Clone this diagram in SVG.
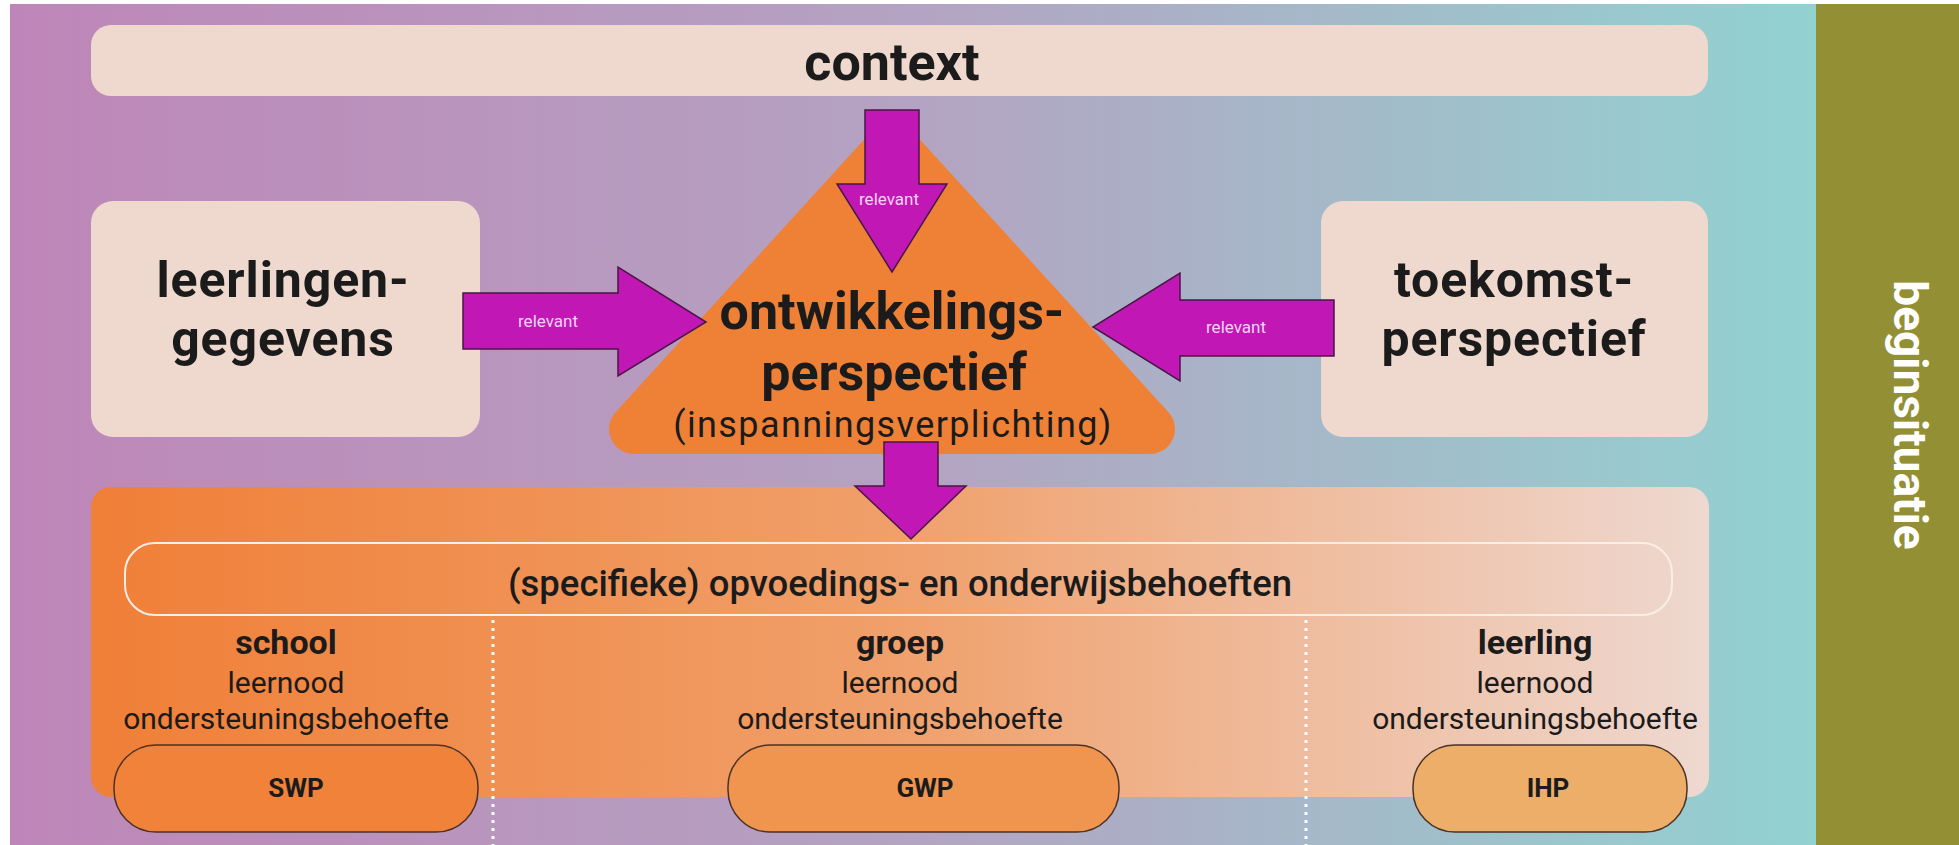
<svg xmlns="http://www.w3.org/2000/svg" width="1959" height="845" viewBox="0 0 1959 845">
<defs>
<linearGradient id="bg" x1="10" y1="0" x2="1816" y2="0" gradientUnits="userSpaceOnUse">
<stop offset="0" stop-color="#be86b8"/>
<stop offset="0.5" stop-color="#b4a3c2"/>
<stop offset="1" stop-color="#92d2d1"/>
</linearGradient>
<linearGradient id="panel" x1="91" y1="0" x2="1709" y2="0" gradientUnits="userSpaceOnUse">
<stop offset="0" stop-color="#f07f37"/>
<stop offset="0.5" stop-color="#f0a06b"/>
<stop offset="1" stop-color="#eed8d0"/>
</linearGradient>
<style>
.box{fill:#efd8cd}
.big{font-family:Roboto,"Liberation Sans",sans-serif;font-weight:bold;font-size:52px;fill:#1b1b1b;text-anchor:middle}
.side{font-size:50px;letter-spacing:0.9px}
.rel{font-family:Roboto,"Liberation Sans",sans-serif;font-size:17px;fill:#f6d4f2;text-anchor:middle}
.arrow{fill:#c117b5;stroke:#4a1646;stroke-width:1.5;stroke-linejoin:miter}
.lbl{font-family:Roboto,"Liberation Sans",sans-serif;font-weight:bold;font-size:34px;fill:#1b1b1b;text-anchor:middle}
.sub{font-family:Roboto,"Liberation Sans",sans-serif;font-size:30px;fill:#1b1b1b;text-anchor:middle}
.pill{stroke:#4a3226;stroke-width:1.5}
.pilltxt{font-family:Roboto,"Liberation Sans",sans-serif;font-weight:bold;font-size:26px;fill:#1b1b1b;text-anchor:middle}
.dots{stroke:#ffffff;stroke-width:3;stroke-dasharray:3 5;fill:none}
</style>
</defs>
<rect x="0" y="0" width="1959" height="845" fill="#ffffff"/>
<rect x="10" y="4" width="1806" height="841" fill="url(#bg)"/>
<rect id="beginsituatie-band" x="1816" y="4" width="143" height="841" fill="#928f35"/>

<g id="context">
<rect class="box" x="91" y="25" width="1617" height="71" rx="20"/>
<text class="big" x="892" y="80" font-size="50">context</text>
</g>

<g id="leerlingengegevens">
<rect class="box" x="91" y="201" width="389" height="236" rx="22"/>
<text class="big side" x="283" y="297">leerlingen-</text>
<text class="big side" x="283" y="356">gegevens</text>
</g>

<g id="toekomstperspectief">
<rect class="box" x="1321" y="201" width="387" height="236" rx="22"/>
<text class="big side" x="1514" y="297">toekomst-</text>
<text class="big side" x="1514" y="356">perspectief</text>
</g>

<g id="behoeften-panel">
<rect x="91" y="487" width="1618" height="310" rx="20" fill="url(#panel)"/>
<rect x="125" y="543" width="1547" height="72" rx="30" fill="none" stroke="#fbeee6" stroke-width="2"/>
<text x="900" y="596" font-family="Roboto,'Liberation Sans',sans-serif" font-weight="500" font-size="36.5" fill="#1b1b1b" text-anchor="middle">(specifieke) opvoedings- en onderwijsbehoeften</text>
</g>

<g id="dividers">
<line class="dots" x1="493" y1="620" x2="493" y2="845"/>
<line class="dots" x1="1306" y1="620" x2="1306" y2="845"/>
</g>

<g id="ontwikkelingsperspectief">
<polygon points="892,146 634,429 1150,429" fill="#ef8137" stroke="#ef8137" stroke-width="50" stroke-linejoin="round"/>
<text class="big" x="892" y="329">ontwikkelings-</text>
<text class="big" x="894" y="390">perspectief</text>
<text x="893" y="437" font-family="Roboto,'Liberation Sans',sans-serif" font-size="36" letter-spacing="1.4" fill="#1b1b1b" text-anchor="middle">(inspanningsverplichting)</text>
</g>

<g id="school">
<text class="lbl" x="286" y="654">school</text>
<text class="sub" x="286" y="693">leernood</text>
<text class="sub" x="286" y="729">ondersteuningsbehoefte</text>
<rect class="pill" x="114" y="745" width="364" height="87" rx="42" fill="#f0823a"/>
<text class="pilltxt" x="296" y="797">SWP</text>
</g>

<g id="groep">
<text class="lbl" x="900" y="654">groep</text>
<text class="sub" x="900" y="693">leernood</text>
<text class="sub" x="900" y="729">ondersteuningsbehoefte</text>
<rect class="pill" x="728" y="745" width="391" height="87" rx="42" fill="#f0954f"/>
<text class="pilltxt" x="925" y="797">GWP</text>
</g>

<g id="leerling">
<text class="lbl" x="1535" y="654">leerling</text>
<text class="sub" x="1535" y="693">leernood</text>
<text class="sub" x="1535" y="729">ondersteuningsbehoefte</text>
<rect class="pill" x="1413" y="745" width="274" height="87" rx="42" fill="#ecae68"/>
<text class="pilltxt" x="1548" y="797">IHP</text>
</g>

<g id="beginsituatie">
<text transform="translate(1894,415) rotate(90)" x="0" y="0" font-family="Roboto,'Liberation Sans',sans-serif" font-weight="bold" font-size="46" fill="#ffffff" text-anchor="middle">beginsituatie</text>
</g>

<g id="connectors">
<polygon class="arrow" points="865,110 919,110 919,184 947,184 892,272 837,184 865,184"/>
<text class="rel" x="889" y="205">relevant</text>
<polygon class="arrow" points="463,293 618,293 618,267 706,322 618,376 618,349 463,349"/>
<text class="rel" x="548" y="327">relevant</text>
<polygon class="arrow" points="1334,300 1180,300 1180,273 1093,327 1180,381 1180,356 1334,356"/>
<text class="rel" x="1236" y="333">relevant</text>
<polygon class="arrow" points="884,442 938,442 938,486 966,486 911,539 855,486 884,486"/>
</g>
</svg>
